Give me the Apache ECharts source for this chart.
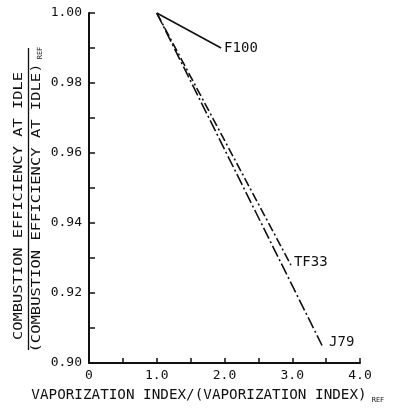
<!DOCTYPE html>
<html><head><meta charset="utf-8">
<script src="https://cdn.jsdelivr.net/npm/echarts@6/dist/echarts.min.js"></script>
<style>html,body{margin:0;padding:0;background:#fff}#c{width:393px;height:412px}</style>
</head><body><div id="c"></div>
<script>
var seriesNames = ['F100', 'TF33', 'J79'];
var f100 = [[1.0, 1.0], [1.95, 0.990]];
var tf33 = [[1.0, 1.0], [2.98, 0.928]];
var j79 = [[1.0, 1.0], [3.44, 0.905]];
var xTicks = {min: 0, max: 4, interval: 0.5};
var yTicks = {min: 0.90, max: 1.00, interval: 0.01};

var FONT = 'DejaVu Sans Mono';
var chart = echarts.init(document.getElementById('c'));
function lineSeries(name, data, type, lblOff) {
  return {
    name: name, type: 'line', data: data, symbol: 'none', animation: false,
    lineStyle: {color: '#111', width: 1.6, type: type},
    endLabel: {show: true, formatter: name, color: '#111', fontFamily: FONT, fontSize: 14,
      offset: lblOff, distance: 3}
  };
}
chart.setOption({
  animation: false,
  grid: {left: 89, right: 33, top: 13, bottom: 49},
  xAxis: {
    type: 'value', min: xTicks.min, max: xTicks.max, interval: xTicks.interval,
    splitLine: {show: false},
    axisLine: {show: true, onZero: false, lineStyle: {color: '#111', width: 2}},
    axisTick: {show: true, inside: true, length: 5, lineStyle: {color: '#111', width: 1.5}},
    axisLabel: {color: '#111', fontFamily: FONT, fontSize: 13, margin: 6,
      formatter: function (v) { if (v === 0) return '0'; return (Math.abs(v - Math.round(v)) < 1e-9) ? v.toFixed(1) : ''; }}
  },
  yAxis: {
    type: 'value', min: yTicks.min, max: yTicks.max, interval: yTicks.interval,
    splitLine: {show: false},
    axisLine: {show: true, onZero: false, lineStyle: {color: '#111', width: 2}},
    axisTick: {show: true, inside: true, length: 6, lineStyle: {color: '#111', width: 1.5}},
    axisLabel: {color: '#111', fontFamily: FONT, fontSize: 13, margin: 7,
      formatter: function (v) { return (Math.round(v * 100) % 2 === 0) ? v.toFixed(2) : ''; }}
  },
  graphic: [
    {type: 'text', x: 19, y: 206, rotation: Math.PI / 2, scaleX: 1.28,
      style: {text: 'COMBUSTION EFFICIENCY AT IDLE', font: '12px "DejaVu Sans Mono"', fill: '#111', align: 'center', verticalAlign: 'middle'}},
    {type: 'line', shape: {x1: 28.5, y1: 48, x2: 28.5, y2: 350}, style: {stroke: '#111', lineWidth: 1.3}},
    {type: 'text', x: 37, y: 208, rotation: Math.PI / 2, scaleX: 1.29,
      style: {text: '(COMBUSTION EFFICIENCY AT IDLE)', font: '12px "DejaVu Sans Mono"', fill: '#111', align: 'center', verticalAlign: 'middle'}},
    {type: 'text', x: 40, y: 53, rotation: Math.PI / 2,
      style: {text: 'REF', font: '7px "DejaVu Sans Mono"', fill: '#111', align: 'center', verticalAlign: 'middle'}},
    {type: 'text', x: 199, y: 395, scaleX: 1.02,
      style: {text: 'VAPORIZATION INDEX/(VAPORIZATION INDEX)', font: '14px "DejaVu Sans Mono"', fill: '#111', align: 'center', verticalAlign: 'middle'}},
    {type: 'text', x: 378, y: 400,
      style: {text: 'REF', font: '7px "DejaVu Sans Mono"', fill: '#111', align: 'center', verticalAlign: 'middle'}}
  ],
  series: [
    lineSeries(seriesNames[0], f100, 'solid', [0, 0]),
    lineSeries(seriesNames[1], tf33, [9, 3, 2, 3], [0, -3]),
    lineSeries(seriesNames[2], j79, [12, 3, 2, 3], [4, -3])
  ]
});
</script></body></html>
